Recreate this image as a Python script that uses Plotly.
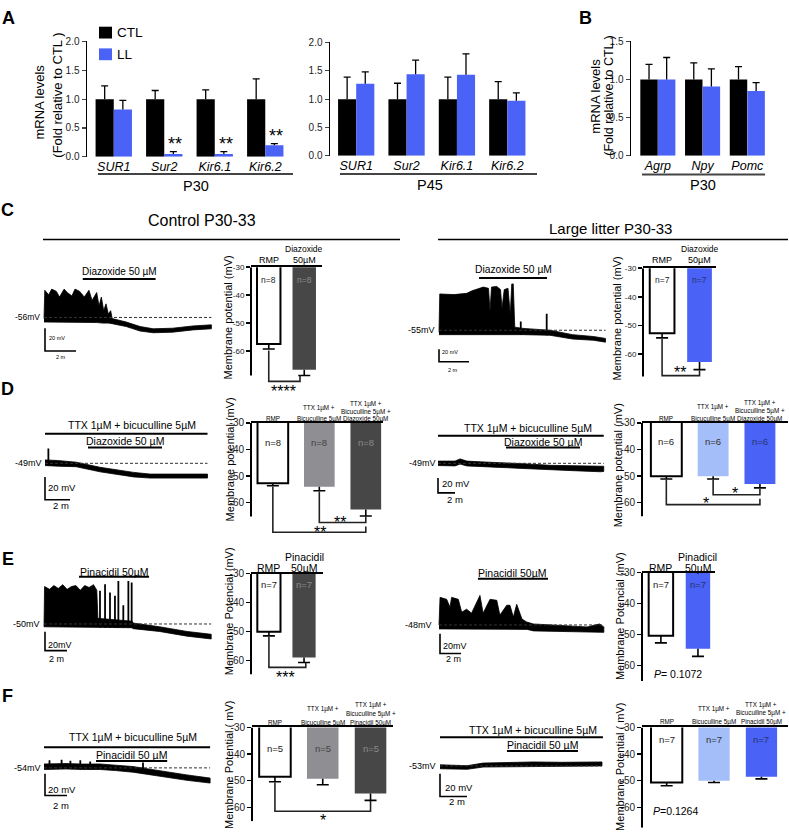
import numpy as np
import plotly.graph_objects as go

W, H = 789, 834
FONT = "Arial, 'Liberation Sans', Helvetica, sans-serif"
BLUE = "#4a62f5"
LBLUE = "#a3bef8"
DGRAY = "#474747"
MGRAY = "#8e8e93"

# ---------------- qPCR data (panel A, B) ----------------
A_GENES = ["SUR1", "Sur2", "Kir6.1", "Kir6.2"]
P30_CTL = [1.0, 1.0, 1.0, 1.0]
P30_CTL_ERR = [0.23, 0.15, 0.16, 0.35]
P30_LL = [0.82, 0.05, 0.05, 0.20]
P30_LL_ERR = [0.16, 0.04, 0.04, 0.03]
P30_STARS = ["", "**", "**", "**"]
P45_CTL = [1.0, 1.0, 1.0, 1.0]
P45_CTL_ERR = [0.39, 0.28, 0.39, 0.31]
P45_LL = [1.27, 1.44, 1.43, 0.97]
P45_LL_ERR = [0.21, 0.25, 0.37, 0.14]
P45_STARS = ["", "", "", ""]
B_GENES = ["Agrp", "Npy", "Pomc"]
B_CTL = [1.0, 1.0, 1.0]
B_CTL_ERR = [0.20, 0.22, 0.17]
B_LL = [1.0, 0.91, 0.85]
B_LL_ERR = [0.29, 0.23, 0.11]
B_STARS = ["", "", ""]

# ---------------- membrane potential bar data (mV) ----------------
C_CTL_MP = [-57.5, -66.7]
C_CTL_MP_ERR = [1.8, 2.1]
C_LL_MP = [-52.8, -62.8]
C_LL_MP_ERR = [1.6, 2.7]
D_CTL_MP = [-52.7, -54.0, -62.5]
D_CTL_MP_ERR = [0.9, 1.5, 2.5]
D_LL_MP = [-50.0, -50.0, -53.0]
D_LL_MP_ERR = [1.1, 1.1, 1.4]
E_CTL_MP = [-50.1, -59.0]
E_CTL_MP_ERR = [1.4, 1.7]
E_LL_MP = [-50.4, -54.6]
E_LL_MP_ERR = [2.3, 2.5]
F_CTL_MP = [-48.5, -49.3, -54.8]
F_CTL_MP_ERR = [1.9, 2.2, 2.6]
F_LL_MP = [-50.7, -50.0, -48.5]
F_LL_MP_ERR = [1.2, 0.7, 0.8]
C_CTL_N = [8, 8]
C_LL_N = [7, 7]
D_CTL_N = [8, 8, 8]
D_LL_N = [6, 6, 6]
E_CTL_N = [7, 7]
E_LL_N = [7, 7]
F_CTL_N = [5, 5, 5]
F_LL_N = [7, 7, 7]
MP_TICKS = [-30, -40, -50, -60]

# ---------------- current-clamp traces (minutes, mV) ----------------
CL_T_UP = [0, 0.05, 0.3, 0.5, 0.8, 1.0, 1.3, 1.5, 1.8, 2.0, 2.3, 2.6, 2.9, 3.1, 3.4, 3.55,
           3.7, 3.85, 4.0, 4.15, 4.3, 4.4, 5.3, 6.2, 7.05, 8.3, 9.6, 10.8]
CL_UP = [-57, -32, -36, -31, -33, -38, -31, -34, -37, -31, -33, -38, -32, -41, -34, -46,
         -38, -50, -44, -53, -50, -57, -60, -64, -66, -65.5, -63.5, -62.5]
CL_T_LO = [0, 3.4, 3.8, 4.15, 4.4, 5.3, 6.2, 7.05, 8.3, 9.6, 10.8]
CL_LO = [-60, -60.5, -61, -61, -61.5, -64, -68, -69.5, -69, -67, -66]
CL_DRUG = [2.5, 7.2]

CR_T_UP = [0, 0.05, 1.0, 1.85, 2.2, 2.95, 3.3, 3.4, 3.5, 3.85, 4.1, 4.2, 4.35, 4.6, 4.75, 4.85,
           4.95, 5.05, 5.6, 7.4, 8.9, 10.3, 11.1]
CR_UP = [-58, 3, 2, 4, 8, 14, 12, -25, 14, 15, 10, -20, 10, 12, -30, 19, 19, -50, -52, -55, -62, -65, -68]
CR_T_LO = [0, 5.6, 7.4, 8.9, 10.3, 11.1]
CR_LO = [-62, -62, -63, -69, -71, -74]
CR_SPK_T = [5.45, 7.18]
CR_SPK_V = [-40.8, -28.8]
CR_DRUG = [2.67, 7.2]

DL_T = [0, 1.0, 2.5, 4.4, 7.1, 8.4, 13.0]
DL_UP = [-46, -46.5, -48, -52.5, -57, -58.5, -58.5]
DL_LO = [-51, -51.5, -52, -56.5, -61, -62, -62]
DL_SPK_T = [0.27]
DL_SPK_V = [-36]
DL_TTX = [0, 13.0]
DL_DRUG = [3.44, 9.36]

DR_T = [0, 2.0, 2.6, 3.4, 5.0, 7.3, 10.0, 13.2, 16.0, 19.1, 19.5]
DR_UP = [-46, -46, -43, -46, -47, -48, -49.5, -51.7, -52.5, -53.9, -53]
DR_LO = [-52, -52.5, -50, -52.5, -53.5, -54.5, -56, -58, -59, -60.4, -60]
DR_TTX = [0, 19.5]
DR_DRUG = [8.0, 16.7]

EL_T_UP = [0, 0.05, 0.5, 0.9, 1.3, 1.7, 2.1, 2.5, 2.9, 3.3, 3.7, 4.1, 4.5, 4.8, 4.9, 8.0,
           8.1, 10.5, 13.0, 15.2]
EL_UP = [-53, -10, -13, -9, -12, -8, -13, -10, -9, -14, -9, -11, -8, -14, -44, -47,
         -49, -53, -58, -61]
EL_T_LO = [0, 4.0, 4.9, 8.0, 8.1, 10.5, 13.0, 15.2]
EL_LO = [-53, -53.5, -54, -54, -55, -58, -63, -66]
EL_SPK_T = [5.09, 5.55, 6.0, 6.45, 6.76, 7.21, 7.67, 7.97]
EL_SPK_V = [-14.5, -7.6, -16.3, -19.8, -4, -30, -4, -5.8]
EL_DRUG = [3.18, 9.55]

ER_T = [0, 0.1, 0.73, 1.05, 1.2, 1.84, 2.16, 2.63, 3.1, 3.9, 4.2, 4.86, 5.5, 5.8, 6.45, 6.76,
        7.08, 7.4, 7.9, 8.35, 9.0, 12.2, 14.1, 15.3, 15.7]
ER_UP = [-48, -20, -22, -30, -20, -22, -35, -32, -36, -18, -36, -22, -23, -38, -28, -28,
         -40, -27, -42, -45, -47, -49, -50, -47, -50]
ER_T_LO = [0, 8.4, 9.0, 12.2, 15.7]
ER_LO = [-52, -52.5, -54, -55, -55.5]
ER_DRUG = [3.71, 10.38]

FL_T = [0, 2.0, 3.5, 5.1, 6.5, 8.1, 9.5, 11.2, 13.0, 15.1]
FL_UP = [-50.4, -50, -50.5, -50.4, -51.5, -52.8, -55, -57.9, -60.5, -63.4]
FL_LO = [-55.5, -55, -55.5, -55.5, -56.5, -58, -60, -63, -65.5, -68]
FL_SPK_T = [0.5, 1.6, 2.4, 3.3, 4.2, 9.0]
FL_SPK_V = [-47, -46.5, -47.5, -47, -48, -49]
FL_TTX = [0, 15.1]
FL_DRUG = [4.73, 11.2]

FR_T = [0, 2.0, 3.2, 5.0, 6.9, 9.0, 12.0]
FR_UP = [-52, -52.8, -50.5, -50, -49.5, -49.8, -49.5]
FR_LO = [-55.5, -56, -54, -53.5, -53, -53.3, -53]
FR_TTX = [0, 12.07]
FR_DRUG = [4.96, 10.22]

SCALE_MIN = 2
SCALE_MV = 20

# ======================================================================
fig = go.Figure()
annotations, shapes, lay = [], [], {}


def px(x):
    return x / W


def py(y):
    return 1 - y / H


def dom(a, b):
    return [max(0.0, min(1.0, a)), max(0.0, min(1.0, b))]


def refs(n):
    return ("x" if n == 1 else f"x{n}"), ("y" if n == 1 else f"y{n}")


def names(n):
    return ("xaxis" if n == 1 else f"xaxis{n}"), ("yaxis" if n == 1 else f"yaxis{n}")


def ann(x, y, text, size=10, color="black", xa="center", ya="middle", angle=0):
    annotations.append(dict(x=px(x), y=py(y), xref="paper", yref="paper", text=text,
                            showarrow=False, font=dict(size=size, color=color, family=FONT),
                            xanchor=xa, yanchor=ya, textangle=angle, borderpad=0))


def star(x, y, text, size=16):
    ann(x, y + 0.2 * size, text, size=size)


def pline(x0, y0, x1, y1, width=1.5, color="black"):
    shapes.append(dict(type="line", xref="paper", yref="paper", x0=px(x0), y0=py(y0),
                       x1=px(x1), y1=py(y1), line=dict(color=color, width=width)))


def segs(n, xs, ys, width=1.5, color="black", dash=None):
    xr_, yr_ = refs(n)
    fig.add_scatter(x=xs, y=ys, mode="lines", xaxis=xr_, yaxis=yr_, showlegend=False,
                    hoverinfo="skip", line=dict(color=color, width=width, dash=dash))


# ---------------- expression panels ----------------
def expr_panel(n, box, xr, ymax, dtick, genes, ctl, ctl_e, ll, ll_e, stars, off=0.18, w=0.36):
    X0, X1, Y0, Y1 = box
    xr_, yr_ = refs(n)
    xn, yn = names(n)
    ppu = (X1 - X0) / (xr[1] - xr[0])
    ppy = (Y1 - Y0) / ymax
    g = np.arange(len(genes))
    fig.add_bar(x=g - off, y=ctl, width=w, marker=dict(color="black", line=dict(width=0)),
                xaxis=xr_, yaxis=yr_, showlegend=False, hoverinfo="skip")
    fig.add_bar(x=g + off, y=ll, width=w, marker=dict(color=BLUE, line=dict(width=0)),
                xaxis=xr_, yaxis=yr_, showlegend=False, hoverinfo="skip")
    cw = 3.5 / ppu
    ex, ey = [], []
    for xs, vals, errs in ((g - off, ctl, ctl_e), (g + off, ll, ll_e)):
        for x, v, e in zip(xs, vals, errs):
            ex += [x, x, None, x - cw, x + cw, None]
            ey += [v, v + e, None, v + e, v + e, None]
    segs(n, ex, ey, width=1.3)
    for x, v, e, s in zip(g + off, ll, ll_e, stars):
        if s:
            star(X0 + (x - xr[0]) * ppu + 2, Y1 - (v + e) * ppy - 11, s, size=18)
    lay[xn] = dict(domain=dom(px(X0), px(X1)), range=xr, anchor=yr_, tickvals=list(g),
                   ticktext=[f"<i>{s}</i>" for s in genes], ticks="", showline=False,
                   showgrid=False, zeroline=False, tickfont=dict(size=12.5, color="black"),
                   ticklabelstandoff=1)
    lay[yn] = dict(domain=dom(py(Y1), py(Y0)), range=[0, ymax], anchor=xr_, dtick=dtick,
                   tickformat=".1f", ticks="outside", ticklen=4, tickwidth=1.2,
                   showline=True, linewidth=1.5, linecolor="black", showgrid=False,
                   zeroline=False, tickfont=dict(size=10, color="#222"))


expr_panel(1, (87, 290, 36, 153), [-0.53, 3.49], 2.0, 0.5, A_GENES, P30_CTL, P30_CTL_ERR,
           P30_LL, P30_LL_ERR, P30_STARS)
expr_panel(2, (330, 535, 37, 152), [-0.52, 3.55], 2.0, 0.5, A_GENES, P45_CTL, P45_CTL_ERR,
           P45_LL, P45_LL_ERR, P45_STARS)
expr_panel(3, (631, 767, 36, 152), [-0.6, 2.44], 1.5, 0.5, B_GENES, B_CTL, B_CTL_ERR,
           B_LL, B_LL_ERR, B_STARS, off=0.197, w=0.39)

# legend
shapes.append(dict(type="rect", xref="paper", yref="paper", x0=px(99), x1=px(112), y0=py(33),
                   y1=py(21), fillcolor="black", line=dict(width=0)))
shapes.append(dict(type="rect", xref="paper", yref="paper", x0=px(99), x1=px(112), y0=py(55),
                   y1=py(43), fillcolor=BLUE, line=dict(width=0)))
ann(116, 27, "CTL", size=13.5, xa="left")
ann(116, 49, "LL", size=13.5, xa="left")
# group underlines + labels
pline(98, 170.5, 293, 170.5, width=2, color="#444")
pline(340, 170.5, 537, 170.5, width=2, color="#444")
pline(642, 171, 765, 171, width=2, color="#444")
ann(195.5, 183, "P30", size=14.5)
ann(430, 182, "P45", size=14.5)
ann(703, 182, "P30", size=14.5)
# y titles
ann(40, 98, "mRNA levels", size=13, angle=-90)
ann(58, 91, "(Fold relative to CTL )", size=13, angle=-90)
ann(596, 92, "mRNA levels", size=13, angle=-90)
ann(609, 91, "(Fold relative to CTL )", size=12.5, angle=-90)


# ---------------- membrane potential panels ----------------
def mp_panel(n, xbox, xr, ytop, ppv, ybot, axis_bot, vals, errs, colors, ns, ncolors,
             brackets, tick_size, cap_px, n_y, n_size, labels, title, title_xy):
    X0, X1 = xbox
    Y1 = ytop + (-30 - ybot) * ppv
    xr_, yr_ = refs(n)
    xn, yn = names(n)
    ppu = (X1 - X0) / (xr[1] - xr[0])
    k = len(vals)
    lc = ["black" if c == "white" else c for c in colors]
    lw = [2 if c == "white" else 0 for c in colors]
    fig.add_bar(x=list(range(k)), y=vals, width=0.66,
                marker=dict(color=colors, line=dict(color=lc, width=lw)),
                xaxis=xr_, yaxis=yr_, showlegend=False, hoverinfo="skip")
    cw = cap_px / ppu
    ex, ey = [], []
    for i, (v, e) in enumerate(zip(vals, errs)):
        ex += [i, i, None, i - cw, i + cw, None]
        ey += [v, v - e, None, v - e, v - e, None]
    segs(n, ex, ey, width=1.6)
    bx, by = [], []
    for (xa_, xb_, ya_, lev, yb_) in brackets:
        bx += [xa_, xa_, xb_, xb_, None]
        by += [ya_, lev, lev, yb_, None]
    if bx:
        segs(n, bx, by, width=1.6, color="#222")
    shapes.append(dict(type="line", xref=f"{xr_} domain", yref=yr_, x0=0, x1=0, y0=-30,
                       y1=axis_bot, line=dict(color="black", width=2)))
    lay[xn] = dict(domain=dom(px(X0), px(X1)), range=xr, anchor=yr_, side="top", showline=True,
                   linewidth=2, linecolor="black", ticks="", showticklabels=False,
                   showgrid=False, zeroline=False)
    lay[yn] = dict(domain=dom(py(Y1), py(ytop)), range=[ybot, -30], anchor=xr_,
                   tickvals=MP_TICKS, ticktext=[str(t) for t in MP_TICKS], ticks="outside",
                   ticklen=4, tickwidth=1.5, tickcolor="black", showline=False,
                   showgrid=False, zeroline=False, tickfont=dict(size=tick_size, color="#222"))
    for i, (nn, ncol) in enumerate(zip(ns, ncolors)):
        ann(X0 + (i - xr[0]) * ppu, n_y, f"n={nn}", size=n_size, color=ncol)
    for i, lines in enumerate(labels):
        for (txt, yy, sz) in lines:
            ann(X0 + (i - xr[0]) * ppu, yy, txt, size=sz)
    ann(title_xy[0], title_xy[1], title, size=11, angle=-90)


def small3(y1, y2, y3, drug, sz=6.3):
    return [[("RMP", y3, sz)],
            [("TTX 1µM +", y2 - 0.5 * (y2 - y1), sz), ("Bicuculline 5µM", y3, sz)],
            [("TTX 1µM +", y1, sz), ("Bicuculline 5µM +", y2, sz), (f"{drug} 50µM", y3, sz)]]


N_DARK = "#8a8a8a"
N_NAVY = "#26336e"

# C left / right
mp_panel(5, (251, 322), [-0.5, 1.5], 265, 2.833, -72, -68.8, C_CTL_MP, C_CTL_MP_ERR,
         ["white", DGRAY], C_CTL_N, ["#222", N_DARK],
         [(0, 0.88, -59.8, -70.9, -68.8)], 8, 6, 278, 8.5,
         [[("RMP", 257.7, 9)], [("Diazoxide", 247, 8.5), ("50µM", 257.7, 9)]],
         "Membrane potential (mV)", (228, 316))
star(283, 387.7, "****")
mp_panel(7, (643, 716), [-0.51, 1.44], 266, 2.9, -68.5, -67.9, C_LL_MP, C_LL_MP_ERR,
         ["white", BLUE], C_LL_N, ["#222", N_NAVY],
         [(0, 1, -54.8, -67.6, -65.7)], 8, 6, 278, 8.5,
         [[("RMP", 258, 9)], [("Diazoxide", 247, 8.5), ("50µM", 258, 9)]],
         "Membrane potential (mV)", (617, 317))
star(680, 368.3, "**")

# D left / right
mp_panel(9, (251, 383), [-0.47, 2.37], 423, 2.7, -72, -65.2, D_CTL_MP, D_CTL_MP_ERR,
         ["white", MGRAY, DGRAY], D_CTL_N, ["#222", "#444", N_DARK],
         [(1, 2, -55.8, -67.4, -65.2), (0, 2, -53.9, -71.1, -68.9)], 10, 6, 442.7, 9.5,
         small3(404, 411.5, 419, "Diazoxide"), "Membrane potential (mV)", (230, 460))
star(340, 521, "**")
star(320, 530.7, "**")
mp_panel(11, (642, 788), [-0.52, 2.6], 423, 2.7, -65.2, -65.2, D_LL_MP, D_LL_MP_ERR,
         ["white", LBLUE, BLUE], D_LL_N, ["#222", "#333", N_NAVY],
         [(1, 2, -51.4, -57.0, -54.8), (0, 2, -51.4, -60.7, -58.5)], 10, 6, 441.7, 9.5,
         small3(403, 411, 419, "Diazoxide"), "Membrane potential (mV)", (618, 466))
star(735, 491, "*")
star(706, 501.7, "*")

# E left / right
mp_panel(13, (251, 323), [-0.51, 1.54], 576, 2.933, -65, -64.8, E_CTL_MP, E_CTL_MP_ERR,
         ["white", DGRAY], E_CTL_N, ["#222", N_DARK],
         [(0, 1.05, -51.8, -62.4, -60.9)], 10, 6, 586.7, 9.5,
         [[("RMP", 570, 10.5)], [("Pinacidil", 559.5, 10.5), ("50µM", 570, 10.5)]],
         "Membrane Potencial (mV)", (229, 614))
star(285, 677.7, "***")
mp_panel(15, (642, 715), [-0.51, 1.46], 575, 3.133, -65.1, -65.1, E_LL_MP, E_LL_MP_ERR,
         ["white", BLUE], E_LL_N, ["#222", N_NAVY], [], 10, 6, 586.7, 9.5,
         [[("RMP", 570, 10.5)], [("Pinadicil", 559.5, 10.5), ("50µM", 570, 10.5)]],
         "Membrane Potencial (mV)", (620, 619))
ann(653, 678, "<i>P</i>= 0.1072", size=10.5, xa="left")

# F left / right
mp_panel(17, (252, 393), [-0.48, 2.47], 732, 2.7, -65.2, -65.2, F_CTL_MP, F_CTL_MP_ERR,
         ["white", MGRAY, DGRAY], F_CTL_N, ["#222", "#444", N_DARK],
         [(0, 2, -50.7, -61.5, -57.6)], 10, 6, 753.3, 9.5,
         small3(709, 718, 727, "Pinacidil"), "Membrane Potential ( mV)", (229, 770))
star(323, 823.3, "*")
mp_panel(19, (642, 788), [-0.52, 2.56], 732, 2.7, -67.7, -67.7, F_LL_MP, F_LL_MP_ERR,
         ["white", LBLUE, BLUE], F_LL_N, ["#222", "#333", N_NAVY], [], 10, 6, 744, 9.5,
         small3(709, 717, 726, "Pinacidil"), "Membrane Potential ( mV)", (620, 772))
ann(652, 817, "<i>P</i>=0.1264", size=10.5, xa="left")

# ---------------- trace panels ----------------
TR = {}


def trace_panel(n, xl, yb, base, ppm, ppv, box):
    X0, X1, Y0, Y1 = box
    TR[n] = (xl, yb, base, ppm, ppv)
    xr_, yr_ = refs(n)
    xn, yn = names(n)
    lay[xn] = dict(domain=dom(px(X0), px(X1)), range=[(X0 - xl) / ppm, (X1 - xl) / ppm],
                   anchor=yr_, visible=False)
    lay[yn] = dict(domain=dom(py(Y1), py(Y0)),
                   range=[base + (yb - Y1) / ppv, base + (yb - Y0) / ppv],
                   anchor=xr_, visible=False)


def p2d(n, x=None, y=None):
    xl, yb, base, ppm, ppv = TR[n]
    t = None if x is None else (x - xl) / ppm
    v = None if y is None else base + (yb - y) / ppv
    return t, v


def d2px(n, t):
    xl, yb, base, ppm, ppv = TR[n]
    return xl + t * ppm


def draw_trace(n, t_up, up, t_lo, lo, base, spk_t=(), spk_v=(), scale_px=(0, 0)):
    xr_, yr_ = refs(n)
    xs = list(t_up) + list(t_lo)[::-1]
    ys = list(up) + list(lo)[::-1]
    fig.add_scatter(x=xs, y=ys, mode="lines", fill="toself", fillcolor="black",
                    line=dict(color="black", width=0.8), xaxis=xr_, yaxis=yr_,
                    showlegend=False, hoverinfo="skip")
    if len(spk_t):
        lo_at = np.interp(spk_t, t_lo, lo)
        sx, sy = [], []
        for t, v, l in zip(spk_t, spk_v, lo_at):
            sx += [t, t, None]
            sy += [l, v, None]
        segs(n, sx, sy, width=1.8)
    t_end = max(max(t_up), max(t_lo))
    segs(n, [0, t_end], [base, base], width=1, color="#333", dash="3px,2px")
    t0, v0 = p2d(n, scale_px[0], scale_px[1])
    segs(n, [t0, t0, t0 + SCALE_MIN], [v0 + SCALE_MV, v0, v0], width=1.6)


def drug_bar(n, window, ypx, label, label_ypx, size, label_xpx=None, width=2):
    _, v = p2d(n, y=ypx)
    segs(n, list(window), [v, v], width=width)
    cx = label_xpx if label_xpx is not None else (d2px(n, window[0]) + d2px(n, window[1])) / 2
    ann(cx, label_ypx, label, size=size)


# C left
trace_panel(4, 44, 316, -56, 15.5, 1.15, (40, 216, 272, 356))
draw_trace(4, CL_T_UP, CL_UP, CL_T_LO, CL_LO, -56, scale_px=(45, 350))
drug_bar(4, CL_DRUG, 277, "Diazoxide 50 µM", 269, 10)
ann(41, 316, "-56mV", size=8.5, xa="right")
ann(48, 337, "20 mV", size=5.5, xa="left")
ann(55, 356, "2 m", size=5.5, xa="left")
# C right
trace_panel(6, 439, 329, -55, 15, 0.635, (435, 610, 270, 365))
draw_trace(6, CR_T_UP, CR_UP, CR_T_LO, CR_LO, -55, CR_SPK_T, CR_SPK_V, scale_px=(439, 361))
drug_bar(6, CR_DRUG, 276, "Diazoxide 50 µM", 267.7, 10.3)
ann(436, 329, "-55mV", size=9, xa="right")
ann(441, 351, "20 mV", size=5.5, xa="left")
ann(447, 369, "2 m", size=5.5, xa="left")
# D left
trace_panel(8, 45, 464, -49, 12.5, 1.15, (40, 212, 430, 505))
draw_trace(8, DL_T, DL_UP, DL_T, DL_LO, -49, DL_SPK_T, DL_SPK_V, scale_px=(45, 501))
drug_bar(8, DL_TTX, 434, "TTX 1µM + bicuculline 5µM", 425, 10.5, label_xpx=132)
drug_bar(8, DL_DRUG, 448, "Diazoxide 50 µM", 441.7, 10.5)
ann(43, 464, "-49mV", size=9, xa="right")
ann(47, 489, "20 mV", size=9.5, xa="left")
ann(52, 507, "2 m", size=9.5, xa="left")
# D right
trace_panel(10, 438, 464, -49, 8.5, 0.75, (434, 608, 432, 498))
draw_trace(10, DR_T, DR_UP, DR_T, DR_LO, -49, scale_px=(438, 494))
drug_bar(10, DR_TTX, 436, "TTX 1µM + bicuculline 5µM", 428.3, 10.5, label_xpx=527.8)
drug_bar(10, DR_DRUG, 448, "Diazoxide 50 µM", 442.7, 10.5)
ann(437, 464, "-49mV", size=9, xa="right")
ann(441, 484, "20 mV", size=9.5, xa="left")
ann(446, 501, "2 m", size=9.5, xa="left")
# E left
trace_panel(12, 44, 627, -50, 11, 0.95, (40, 215, 575, 658))
draw_trace(12, EL_T_UP, EL_UP, EL_T_LO, EL_LO, -50, EL_SPK_T, EL_SPK_V, scale_px=(45, 654))
drug_bar(12, EL_DRUG, 579, "Pinacidil 50µM", 574.3, 10.5)
ann(41, 627, "-50mV", size=9, xa="right")
ann(47, 648, "20mV", size=9, xa="left")
ann(48, 663, "2 m", size=9, xa="left")
# E right
trace_panel(14, 439, 628, -48, 10.5, 1.0, (435, 608, 577, 660))
draw_trace(14, ER_T, ER_UP, ER_T_LO, ER_LO, -48, scale_px=(440, 657))
drug_bar(14, ER_DRUG, 581, "Pinacidil 50µM", 575, 10.5)
ann(433, 628, "-48mV", size=9, xa="right")
ann(442, 649, "20mV", size=9, xa="left")
ann(445, 663, "2 m", size=9, xa="left")
# F left
trace_panel(16, 44, 773, -54, 11, 1.1, (40, 214, 748, 805))
draw_trace(16, FL_T, FL_UP, FL_T, FL_LO, -54, FL_SPK_T, FL_SPK_V, scale_px=(45, 801))
drug_bar(16, FL_TTX, 752, "TTX 1µM + bicuculline 5µM", 741.7, 10.5, label_xpx=132.8)
drug_bar(16, FL_DRUG, 766, "Pinacidil 50 µM", 760, 10.5)
ann(42, 773, "-54mV", size=9, xa="right")
ann(47, 795, "20 mV", size=9.5, xa="left")
ann(52, 811, "2 m", size=9.5, xa="left")
# F right
trace_panel(18, 440, 771, -53, 13.5, 1.15, (436, 607, 738, 805))
draw_trace(18, FR_T, FR_UP, FR_T, FR_LO, -53, scale_px=(440, 802))
drug_bar(18, FR_TTX, 742, "TTX 1µM + bicuculline 5µM", 734.3, 10.5, label_xpx=532.5)
drug_bar(18, FR_DRUG, 756, "Pinacidil 50 µM", 750, 10.5)
ann(437, 771, "-53mV", size=9, xa="right")
ann(444, 793, "20 mV", size=9.5, xa="left")
ann(448, 807, "2 m", size=9.5, xa="left")

# ---------------- section titles, panel letters ----------------
ann(201.7, 218, "Control P30-33", size=16)
ann(610, 226, "Large litter P30-33", size=15)
pline(43, 237, 400, 237, width=1.5)
pline(438, 237, 788, 237, width=1.5)
for letter, x, y in (("A", 8.5, 11.7), ("B", 585, 12), ("C", 7.5, 206.5), ("D", 8, 389),
                     ("E", 8, 561), ("F", 8, 700)):
    ann(x, y, f"<b>{letter}</b>", size=18)

fig.update_layout(width=W, height=H, autosize=False, margin=dict(l=0, r=0, t=0, b=0),
                  paper_bgcolor="white", plot_bgcolor="rgba(0,0,0,0)", barmode="overlay",
                  showlegend=False, hovermode=False, font=dict(family=FONT, color="black"),
                  annotations=annotations, shapes=shapes, **lay)

FIT_PAGE = (
    "var gd=document.getElementById('{plot_id}');"
    "document.documentElement.style.margin='0';document.body.style.margin='0';"
    "document.body.style.padding='0';"
    "document.documentElement.style.overflow='hidden';document.body.style.overflow='hidden';"
    "gd.style.position='fixed';gd.style.left='0px';gd.style.top='0px';"
    "var vw=window.innerWidth||%d, vh=window.innerHeight||%d;"
    "if(Math.abs(vw-%d)>0.5||Math.abs(vh-%d)>0.5){Plotly.relayout(gd,{width:vw,height:vh});}"
    % (W, H, W, H)
)
fig.write_html("out.html", config={"displayModeBar": False, "staticPlot": True},
               post_script=FIT_PAGE)
